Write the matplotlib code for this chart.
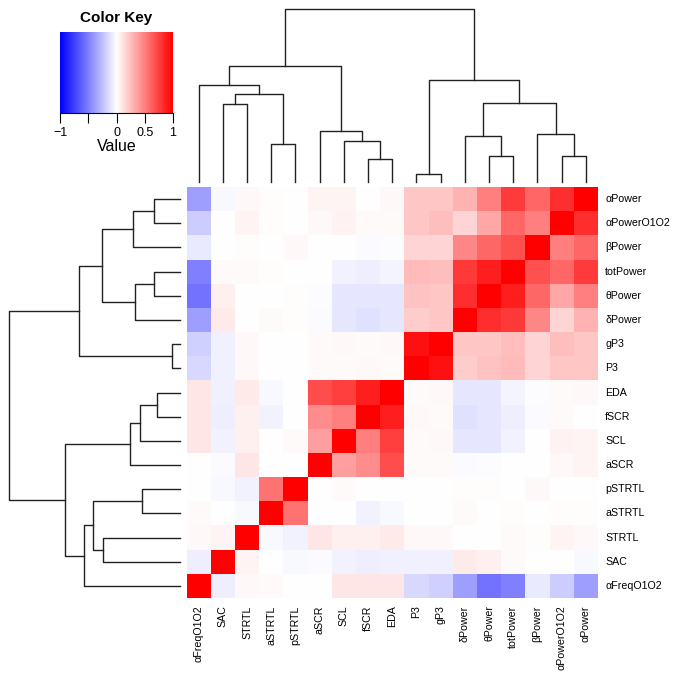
import numpy as np
import matplotlib.pyplot as plt
from matplotlib.colors import LinearSegmentedColormap

plt.rcParams['font.family'] = ['Liberation Sans', 'DejaVu Sans']

labels = ["αFreqO1O2", "SAC", "STRTL", "aSTRTL", "pSTRTL", "aSCR", "SCL", "fSCR", "EDA",
          "P3", "gP3", "δPower", "θPower", "totPower", "βPower", "αPowerO1O2", "αPower"]

# lower triangle of the correlation matrix (column order above), diagonal = 1
lower = [
    [],
    [-0.07],
    [0.03, 0.04],
    [0.02, 0.00, -0.03],
    [0.00, -0.03, -0.05, 0.55],
    [0.00, -0.02, 0.10, 0.00, 0.00],
    [0.10, -0.05, 0.06, 0.00, 0.02, 0.38],
    [0.10, -0.07, 0.06, -0.05, 0.00, 0.45, 0.50],
    [0.10, -0.06, 0.08, -0.03, 0.00, 0.70, 0.75, 0.88],
    [-0.15, -0.06, 0.03, 0.00, 0.00, 0.02, 0.02, 0.03, 0.02],
    [-0.18, -0.06, 0.03, 0.00, 0.00, 0.02, 0.03, 0.02, 0.03, 0.93],
    [-0.38, 0.08, 0.00, 0.02, 0.01, -0.02, -0.10, -0.12, -0.10, 0.20, 0.22],
    [-0.55, 0.06, 0.00, 0.00, 0.01, -0.01, -0.10, -0.10, -0.10, 0.24, 0.22, 0.82],
    [-0.50, 0.02, 0.02, 0.01, 0.00, 0.00, -0.05, -0.07, -0.04, 0.27, 0.25, 0.78, 0.88],
    [-0.08, 0.00, 0.01, 0.00, 0.03, 0.00, 0.00, -0.02, -0.01, 0.17, 0.17, 0.47, 0.60, 0.68],
    [-0.20, 0.00, 0.04, 0.01, 0.00, 0.03, 0.05, 0.02, 0.02, 0.22, 0.25, 0.17, 0.35, 0.60, 0.50],
    [-0.38, -0.03, 0.03, 0.01, 0.00, 0.04, 0.04, 0.00, 0.03, 0.22, 0.22, 0.30, 0.50, 0.77, 0.60, 0.82],
]

# clustering tree: (left, right, height), leaves are column indices
group_a = (0, ((1, 2, 0.45), (3, 4, 0.22), 0.51), 0.562)
group_b = (5, (6, (7, 8, 0.133), 0.237), 0.295)
group_p3 = (9, 10, 0.046)
group_pow = ((11, (12, 13, 0.15), 0.266), (14, (15, 16, 0.15), 0.278), 0.457)
tree = ((group_a, group_b, 0.673), (group_p3, group_pow, 0.59), 1.0)

key_ticks = [-1, -0.5, 0, 0.5, 1]
key_labels = ['−1', '', '0', '0.5', '1']

n = len(labels)
corr = np.eye(n)
for i, row in enumerate(lower):
    for j, v in enumerate(row):
        corr[i, j] = v
        corr[j, i] = v


def draw_tree(ax, node, pos, vertical):
    if isinstance(node, int):
        return pos[node], 0.0
    left, right, h = node
    xl, hl = draw_tree(ax, left, pos, vertical)
    xr, hr = draw_tree(ax, right, pos, vertical)
    xs = [xl, xl, xr, xr]
    hs = [hl, h, h, hr]
    if vertical:
        ax.plot(xs, hs, color='#222222', lw=1.0, clip_on=False)
    else:
        ax.plot(hs, xs, color='#222222', lw=1.0, clip_on=False)
    return (xl + xr) / 2, h


W, H = 679, 680
fig = plt.figure(figsize=(W / 100, H / 100), dpi=100)


def px_axes(x0, y0, x1, y1):
    return fig.add_axes([x0 / W, 1 - y1 / H, (x1 - x0) / W, (y1 - y0) / H])


cmap = LinearSegmentedColormap.from_list('bwr_r', ['blue', 'white', 'red'])

# heatmap
ax = px_axes(186.5, 187, 598, 598)
display = corr[::-1, :]
ax.pcolormesh(np.arange(n + 1), np.arange(n + 1), display, cmap=cmap, vmin=-1, vmax=1,
              edgecolors='none', antialiased=False)
ax.set_xlim(0, n)
ax.set_ylim(n, 0)
ax.axis('off')
for r in range(n):
    ax.text(n + 0.3, r + 0.5, labels[n - 1 - r], ha='left', va='center', fontsize=7.7)
for j in range(n):
    ax.text(j + 0.5, n + 0.3, labels[j], ha='center', va='top', rotation=90, fontsize=7.7)

# column dendrogram
axc = px_axes(186.5, 9, 598, 182)
draw_tree(axc, tree, {v: v + 0.5 for v in range(n)}, True)
axc.set_xlim(0, n)
axc.set_ylim(0, 1.0)
axc.axis('off')

# row dendrogram
axr = px_axes(9.3, 187, 180, 598)
draw_tree(axr, tree, {v: (n - 1 - v) + 0.5 for v in range(n)}, False)
axr.set_xlim(1.0, 0)
axr.set_ylim(n, 0)
axr.axis('off')

# color key
axk = px_axes(60, 32, 173, 113)
grad = np.linspace(-1, 1, 256).reshape(1, -1)
axk.imshow(grad, aspect='auto', cmap=cmap, vmin=-1, vmax=1, extent=(-1, 1, 0, 1))
axk.set_xlim(-1, 1)
axk.set_ylim(0, 1)
axk.set_yticks([])
axk.set_xticks(key_ticks)
axk.set_xticklabels(key_labels, fontsize=9)
axk.tick_params(axis='x', length=7, width=0.8, pad=3)
for s in ['top', 'left', 'right']:
    axk.spines[s].set_visible(False)
axk.spines['bottom'].set_linewidth(0.8)
axk.set_title('Color Key', fontsize=11, fontweight='bold', pad=7)
axk.set_xlabel('Value', fontsize=11.5, labelpad=0)

fig.savefig('out.png', dpi=100)
